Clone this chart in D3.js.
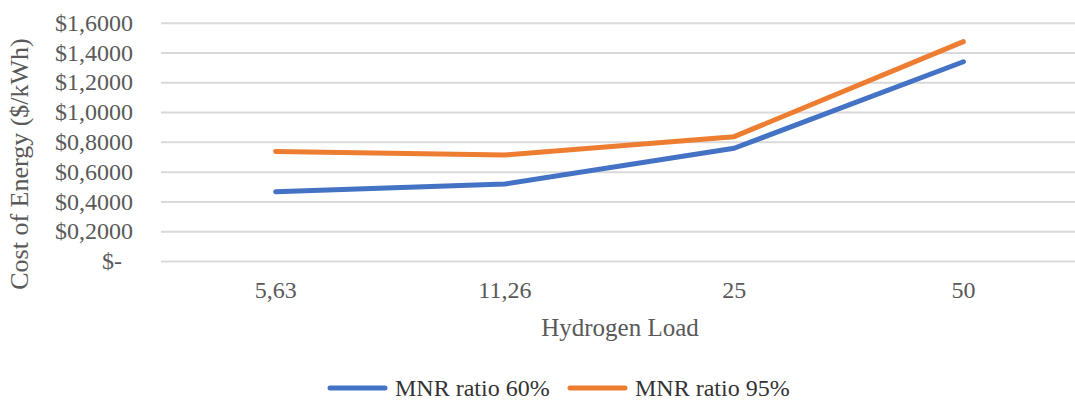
<!DOCTYPE html>
<html>
<head>
<meta charset="utf-8">
<script src="https://cdn.jsdelivr.net/npm/d3@7/dist/d3.min.js"></script>
<style>
  html, body { margin: 0; padding: 0; background: #fff; }
  svg { display: block; }
</style>
</head>
<body>
<svg id="chart" width="1075" height="402"></svg>
<script>
// Hydrogen load categories and cost of energy per series ($/kWh)
const categories = ["5,63", "11,26", "25", "50"];
const mnr60 = [0.465, 0.517, 0.757, 1.338];
const mnr95 = [0.736, 0.712, 0.835, 1.473];
const seriesNames = ["MNR ratio 60%", "MNR ratio 95%"];
const yTicks = [0, 0.2, 0.4, 0.6, 0.8, 1.0, 1.2, 1.4, 1.6];

const colors = ["#4472C4", "#ED7D31"];
const textColor = "#595959";
const serif = '"Liberation Serif", "Times New Roman", serif';

const svg = d3.select("#chart").attr("font-family", serif);
const plot = { left: 161, right: 1078, top: 22.7, bottom: 261 };

const x = d3.scaleBand().domain(categories).range([plot.left, plot.right]);
const y = d3.scaleLinear().domain([0, 1.6]).range([plot.bottom, plot.top]);

// Accounting-style tick labels: "$1,2000", zero shown as "$-"
const fmt = v => v === 0 ? "$-" : "$" + v.toFixed(4).replace(".", ",");

// Horizontal gridlines with value labels
const yAxis = d3.axisLeft(y).tickValues(yTicks).tickFormat(fmt)
  .tickSize(-(plot.right - plot.left)).tickPadding(28);
const gy = svg.append("g").attr("transform", `translate(${plot.left},0)`).call(yAxis)
  .attr("font-family", serif);
gy.select(".domain").remove();
gy.selectAll(".tick line").attr("stroke", "#d9d9d9").attr("stroke-width", 2);
gy.selectAll(".tick text")
  .attr("fill", textColor)
  .style("font-size", "24px")
  .attr("dx", d => d === 0 ? -11 : 0);

// Category labels
const xAxis = d3.axisBottom(x).tickSize(0).tickPadding(20);
const gx = svg.append("g").attr("transform", `translate(0,${plot.bottom})`).call(xAxis)
  .attr("font-family", serif);
gx.select(".domain").remove();
gx.selectAll(".tick text").attr("fill", textColor).style("font-size", "24px");

// Series lines
const line = d3.line()
  .x((d, i) => x(categories[i]) + x.bandwidth() / 2)
  .y(d => y(d));

[mnr60, mnr95].forEach((vals, k) => {
  svg.append("path")
    .datum(vals)
    .attr("d", line)
    .attr("fill", "none")
    .attr("stroke", colors[k])
    .attr("stroke-width", 5)
    .attr("stroke-linecap", "round")
    .attr("stroke-linejoin", "round");
});

// Axis titles
svg.append("text")
  .attr("x", 620).attr("y", 336)
  .attr("text-anchor", "middle")
  .attr("font-family", serif)
  .attr("fill", textColor)
  .style("font-size", "25px")
  .text("Hydrogen Load");

svg.append("text")
  .attr("transform", "translate(28,164) rotate(-90)")
  .attr("text-anchor", "middle")
  .attr("font-family", serif)
  .attr("fill", textColor)
  .style("font-size", "26px")
  .text("Cost of Energy ($/kWh)");

// Legend
const legendX = [330, 570];
seriesNames.forEach((name, k) => {
  const g = svg.append("g").attr("transform", `translate(${legendX[k]},388)`);
  g.append("line")
    .attr("x1", 0).attr("x2", 55).attr("y1", 0).attr("y2", 0)
    .attr("stroke", colors[k]).attr("stroke-width", 5).attr("stroke-linecap", "round");
  g.append("text")
    .attr("x", 65).attr("y", 8)
    .attr("font-family", serif)
    .attr("fill", "#333")
    .style("font-size", "24px")
    .text(name);
});
</script>
</body>
</html>
